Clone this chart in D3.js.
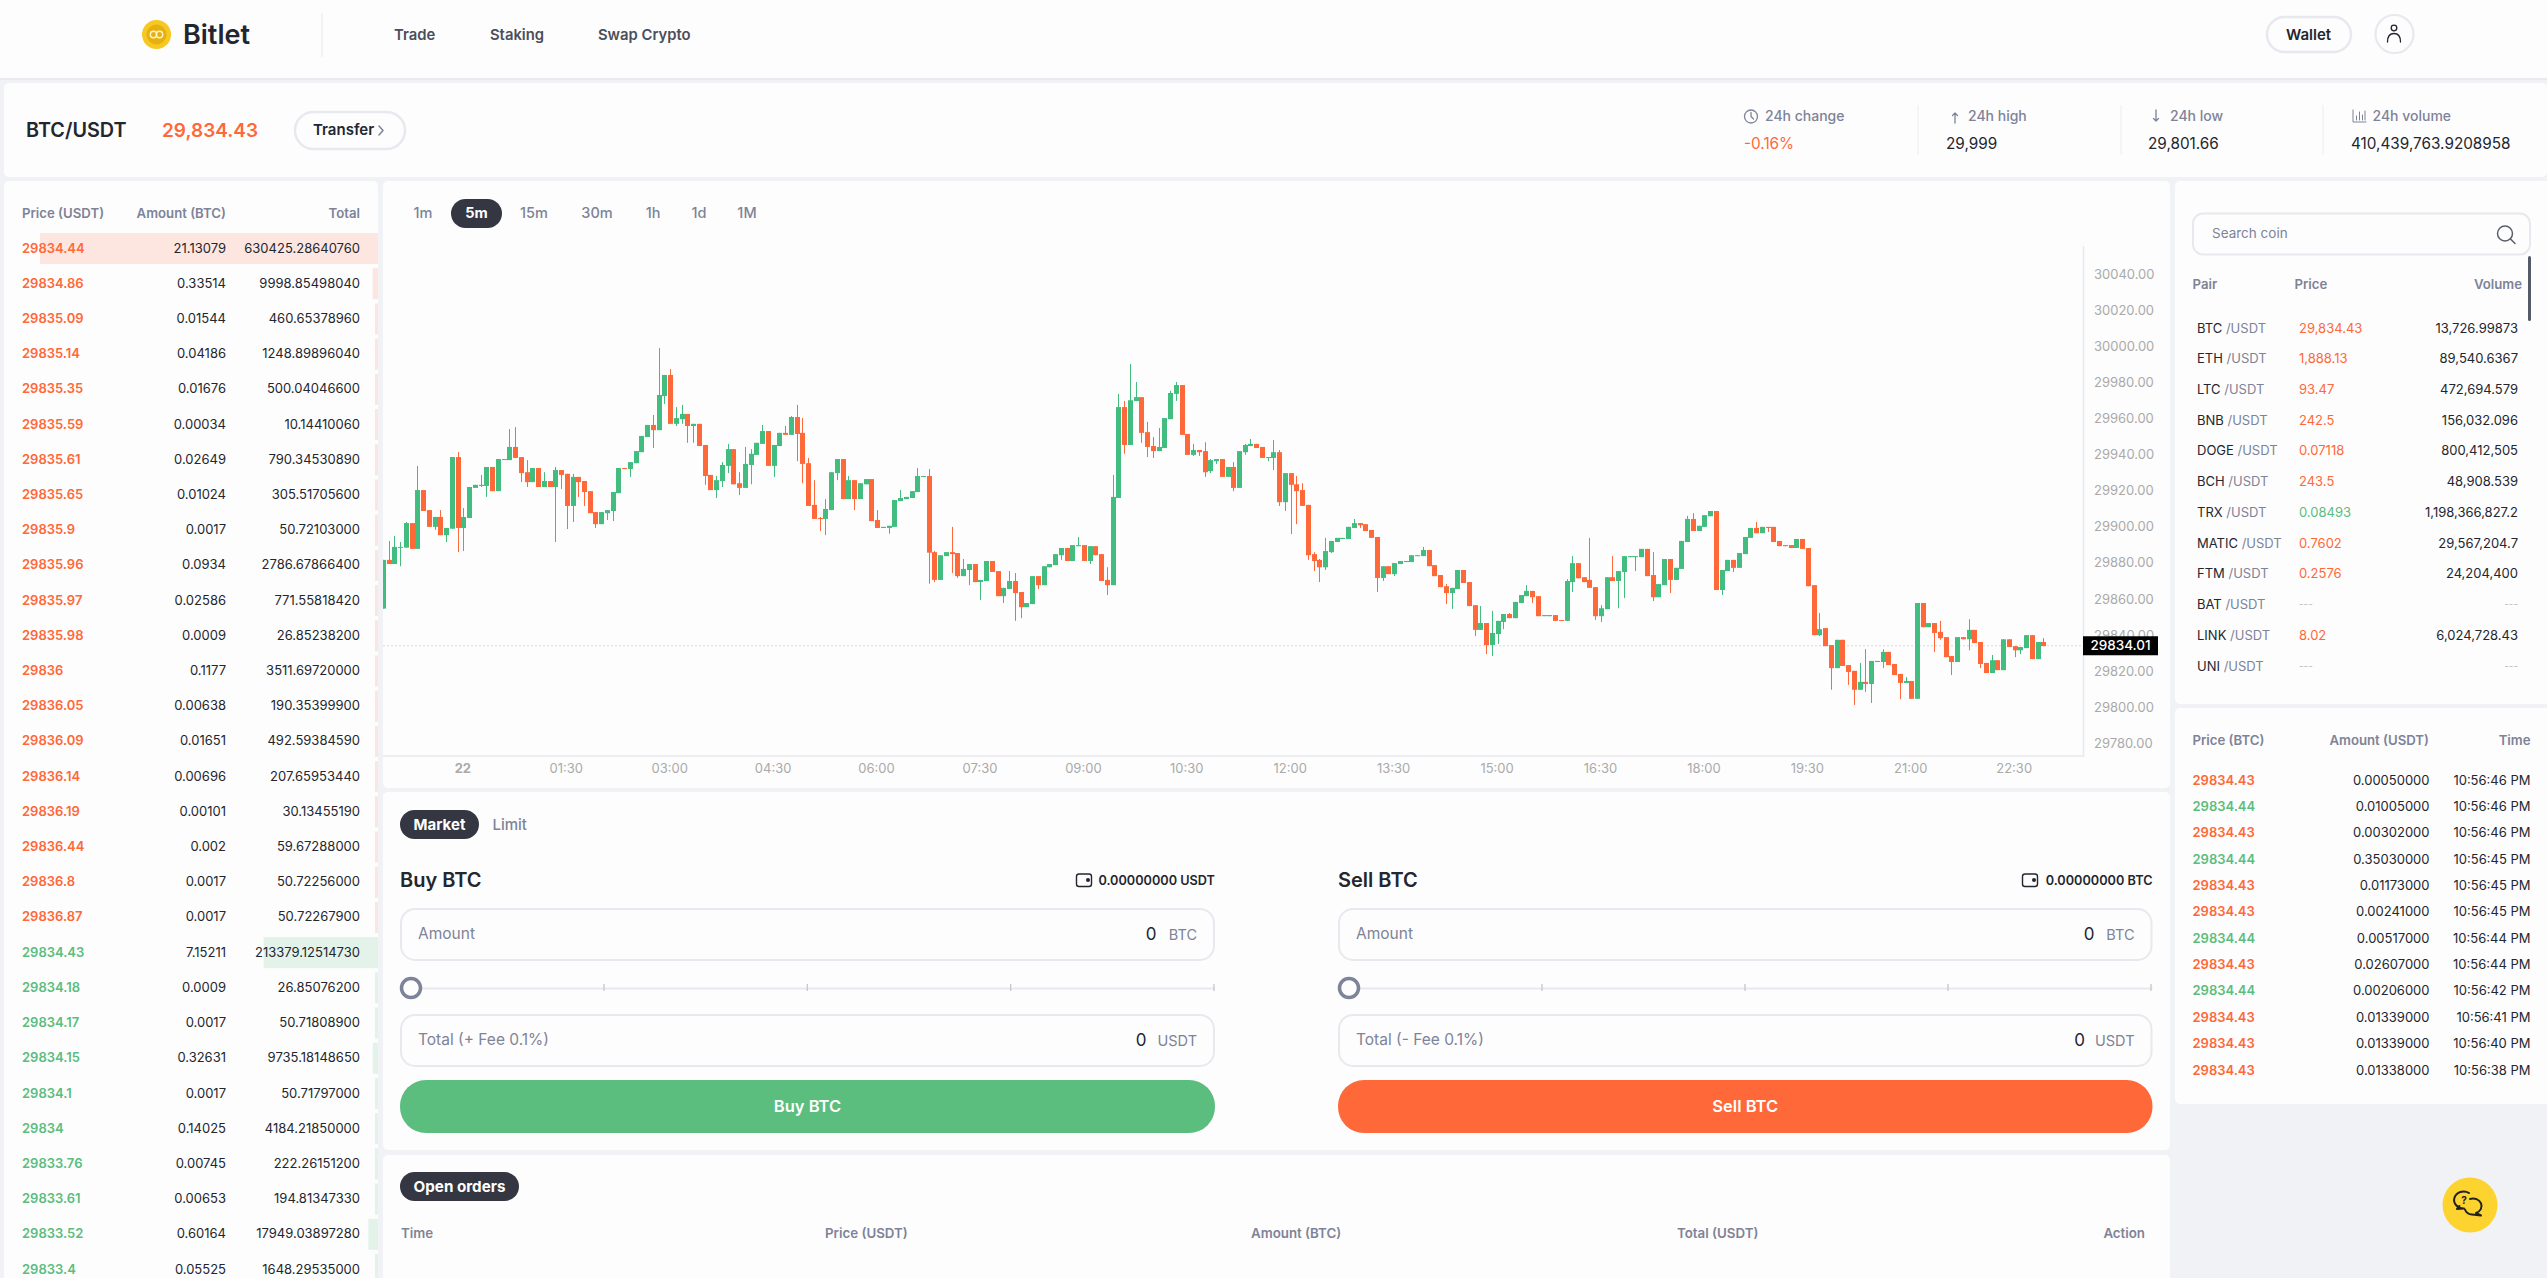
<!DOCTYPE html>
<html><head><meta charset="utf-8"><title>Bitlet BTC/USDT</title>
<script src="https://cdnjs.cloudflare.com/ajax/libs/d3/7.8.5/d3.min.js"></script>
<style>html,body{margin:0;padding:0;background:#f1f2f5;overflow:hidden}svg{display:block}text{font-family:Inter,"Open Sans",sans-serif}</style>
</head><body><div id="app"></div>
<script>
const opens=[
29854.6,29881.6,29879.3,29888.4,29888.4,29902.0,29887.7,29920.3,29909.2,29899.9,
29905.4,29895.3,29898.9,29938.6,29899.3,29904.8,29921.5,29922.6,29922.6,29933.1,
29919.7,29937.1,29936.9,29944.2,29938.6,29930.2,29924.7,29932.5,29922.0,29925.3,
29922.0,29931.4,29929.3,29911.5,29927.6,29925.3,29919.7,29908.1,29901.4,29907.5,
29908.7,29918.6,29932.5,29932.0,29935.2,29941.3,29949.7,29956.4,29953.5,29972.4,
29984.1,29957.0,29959.6,29962.5,29955.8,29957.0,29945.3,29928.7,29920.3,29925.3,
29933.7,29943.0,29924.1,29921.5,29934.2,29939.8,29945.9,29953.0,29933.7,29944.7,
29952.0,29950.9,29960.8,29952.0,29935.2,29912.1,29904.8,29904.3,29909.2,29929.7,
29937.5,29915.3,29925.8,29915.3,29923.5,29926.4,29903.7,29899.3,29899.3,29899.9,
29914.2,29915.3,29915.9,29919.2,29927.6,29928.1,29885.9,29870.5,29883.7,29885.9,
29885.4,29872.6,29876.0,29879.3,29869.3,29869.9,29881.0,29875.4,29861.5,29865.5,
29869.9,29863.8,29855.4,29857.1,29872.6,29867.6,29877.5,29878.7,29884.2,29888.2,
29881.0,29889.2,29889.8,29881.0,29889.2,29884.8,29870.5,29867.6,29915.9,29966.3,
29945.3,29969.6,29971.8,29952.4,29944.7,29941.9,29943.6,29959.6,29973.6,29978.5,
29951.4,29939.8,29942.5,29941.9,29930.8,29936.3,29937.5,29927.6,29933.1,29921.5,
29941.3,29944.7,29945.9,29944.2,29938.1,29938.1,29941.3,29913.6,29929.7,29923.5,
29920.3,29912.1,29884.8,29881.6,29877.5,29885.9,29891.5,29893.2,29893.2,29899.3,
29902.0,29901.4,29898.2,29894.3,29871.6,29878.1,29873.7,29879.3,29880.4,29880.4,
29883.7,29883.7,29887.1,29878.7,29873.2,29867.0,29863.2,29865.5,29876.0,29869.3,
29856.5,29842.8,29846.6,29834.4,29840.5,29847.2,29851.6,29849.3,29857.7,29861.5,
29864.4,29861.5,29850.4,29850.4,29851.0,29848.3,29847.8,29869.3,29879.8,29872.0,
29870.5,29866.5,29850.4,29854.3,29872.0,29869.9,29874.9,29883.1,29883.1,29883.1,
29887.7,29873.2,29860.9,29867.6,29882.1,29870.5,29876.6,29891.5,29904.3,29897.6,
29899.9,29905.8,29908.7,29864.9,29875.4,29881.6,29877.2,29884.8,29893.8,29899.3,
29896.4,29899.9,29899.9,29892.1,29889.8,29889.8,29888.2,29893.2,29888.2,29867.6,
29839.9,29843.8,29834.4,29821.6,29837.3,29823.3,29820.1,29809.6,29814.0,29812.8,
29825.0,29825.0,29830.6,29823.9,29818.4,29813.4,29814.5,29804.6,29857.7,29844.3,
29846.6,29841.7,29838.8,29828.3,29825.0,29838.8,29837.6,29842.8,29836.1,29824.5,
29818.9,29826.0,29820.5,29837.6,29833.8,29831.5,29832.7,29839.9,29826.6,29836.1];
const closes=[
29881.6,29879.3,29888.8,29888.8,29902.0,29887.7,29920.3,29908.7,29899.9,29905.4,
29895.3,29899.3,29938.6,29899.3,29905.4,29922.0,29923.2,29923.2,29933.1,29919.7,
29937.5,29937.5,29944.2,29938.1,29929.7,29924.7,29932.5,29922.0,29925.3,29922.0,
29931.4,29928.7,29911.5,29927.6,29924.7,29919.2,29907.5,29901.4,29908.1,29909.2,
29919.2,29932.5,29932.0,29935.8,29941.9,29950.3,29956.4,29953.5,29973.0,29984.1,
29957.0,29960.2,29962.5,29955.8,29957.0,29944.7,29928.1,29920.3,29925.8,29934.2,
29943.0,29923.5,29921.5,29934.8,29940.4,29946.5,29953.0,29933.7,29945.3,29952.0,
29950.9,29960.8,29951.4,29934.8,29911.5,29904.3,29904.3,29909.8,29930.2,29937.5,
29915.3,29925.8,29915.3,29924.1,29926.4,29903.1,29899.3,29899.9,29900.5,29914.8,
29915.9,29916.5,29919.7,29928.1,29928.1,29885.6,29870.5,29884.2,29885.9,29884.8,
29872.6,29876.6,29879.3,29869.3,29870.5,29881.0,29874.9,29861.5,29866.1,29869.9,
29863.2,29855.4,29857.7,29872.6,29867.6,29878.1,29879.3,29884.8,29888.2,29881.0,
29889.8,29889.8,29881.0,29889.2,29884.2,29869.9,29867.6,29916.5,29966.3,29945.3,
29970.1,29971.8,29952.0,29944.2,29941.9,29944.2,29960.2,29974.1,29978.5,29950.9,
29939.8,29942.5,29941.3,29930.2,29936.9,29937.5,29927.6,29933.1,29921.5,29941.9,
29945.3,29945.9,29943.6,29938.1,29938.6,29941.3,29913.6,29929.7,29923.2,29919.7,
29911.5,29884.2,29881.0,29877.5,29886.5,29892.1,29893.8,29893.8,29899.9,29902.0,
29900.8,29897.6,29893.8,29871.6,29878.1,29873.7,29879.8,29881.0,29881.0,29884.2,
29884.2,29887.1,29878.1,29872.6,29866.5,29863.2,29866.1,29876.0,29868.8,29856.0,
29842.8,29846.6,29834.4,29841.1,29847.8,29851.6,29849.3,29858.3,29862.1,29864.4,
29860.9,29850.4,29851.0,29851.0,29847.8,29847.8,29869.9,29879.8,29871.4,29869.3,
29866.1,29850.4,29854.8,29872.0,29869.9,29875.4,29883.7,29883.7,29883.7,29887.7,
29872.6,29860.9,29868.2,29882.1,29870.5,29877.2,29892.1,29904.3,29897.6,29900.5,
29906.4,29908.7,29864.9,29876.0,29881.6,29877.2,29885.4,29894.3,29899.3,29896.4,
29899.9,29899.3,29891.5,29889.2,29889.2,29888.2,29893.2,29887.7,29867.0,29839.9,
29843.2,29833.8,29821.6,29837.3,29822.8,29819.5,29809.6,29814.0,29812.8,29825.6,
29825.6,29830.6,29823.3,29817.8,29813.4,29814.5,29804.6,29857.7,29844.3,29846.6,
29841.1,29838.2,29827.7,29825.0,29838.8,29837.6,29842.8,29835.5,29823.9,29818.9,
29826.0,29820.5,29837.6,29833.3,29831.5,29833.3,29839.9,29826.6,29836.1,29833.8];
const highs=[
29881.6,29892.1,29894.9,29891.5,29902.6,29902.0,29933.7,29920.3,29909.2,29905.4,
29909.2,29899.3,29938.6,29941.3,29910.4,29922.0,29923.2,29928.7,29933.1,29933.1,
29937.5,29937.5,29954.1,29955.2,29938.6,29936.9,29932.5,29932.5,29930.2,29925.3,
29933.1,29931.4,29929.3,29929.3,29927.6,29925.3,29919.7,29908.1,29908.1,29909.2,
29919.2,29932.5,29932.5,29935.8,29941.9,29950.3,29956.4,29961.9,29999.0,29984.1,
29987.3,29966.3,29967.5,29962.5,29957.0,29957.0,29945.3,29928.7,29928.1,29935.8,
29945.9,29943.0,29930.2,29944.2,29943.0,29946.5,29956.4,29953.0,29945.3,29952.0,
29955.8,29961.3,29967.5,29960.2,29938.1,29925.8,29905.4,29915.3,29930.2,29937.5,
29937.5,29928.1,29925.8,29924.1,29926.4,29926.4,29909.2,29899.9,29900.5,29914.8,
29920.3,29916.5,29919.7,29932.5,29928.1,29932.0,29886.5,29884.2,29885.9,29899.9,
29885.4,29882.1,29879.3,29879.3,29870.5,29881.0,29881.0,29875.4,29866.1,29875.4,
29874.3,29863.8,29857.7,29872.6,29872.6,29878.1,29879.3,29884.8,29888.2,29888.2,
29889.8,29894.3,29889.8,29889.2,29889.2,29884.8,29877.5,29928.7,29973.6,29969.7,
29990.2,29980.2,29971.8,29958.1,29949.7,29954.7,29960.2,29975.3,29980.2,29978.5,
29951.4,29945.9,29942.5,29946.8,29937.5,29937.5,29937.5,29933.1,29935.8,29941.9,
29945.9,29948.6,29945.9,29944.2,29938.6,29948.0,29942.5,29929.7,29929.7,29928.1,
29924.1,29912.1,29885.9,29882.1,29893.8,29892.1,29893.8,29893.8,29899.9,29904.3,
29902.0,29901.4,29898.2,29894.3,29878.1,29878.1,29879.8,29881.0,29881.0,29884.2,
29884.2,29888.8,29887.1,29878.7,29873.2,29868.2,29866.1,29876.0,29876.0,29869.3,
29856.5,29856.0,29846.6,29853.3,29847.8,29851.6,29852.2,29858.3,29862.1,29867.6,
29864.4,29861.5,29851.0,29851.0,29851.0,29848.3,29870.9,29883.7,29879.8,29872.0,
29893.8,29866.5,29856.5,29872.0,29883.7,29875.4,29883.7,29883.7,29883.7,29887.7,
29887.7,29885.9,29868.2,29882.1,29882.1,29877.2,29892.1,29906.0,29907.5,29900.5,
29906.4,29908.7,29908.7,29876.0,29881.6,29881.6,29885.4,29894.3,29899.3,29902.6,
29899.9,29899.9,29899.9,29892.1,29889.8,29889.8,29893.2,29893.2,29888.2,29867.6,
29852.2,29843.8,29834.4,29837.3,29837.3,29823.3,29820.1,29824.5,29832.1,29825.6,
29825.6,29832.1,29830.6,29823.9,29818.4,29816.6,29814.5,29857.7,29857.7,29846.6,
29846.6,29847.8,29838.8,29828.3,29838.8,29838.8,29848.7,29842.8,29836.1,29824.5,
29828.9,29826.0,29837.6,29837.6,29833.8,29833.3,29839.9,29839.9,29836.1,29838.2];
const lows=[
29854.6,29879.3,29879.3,29878.1,29888.4,29887.7,29887.7,29908.7,29899.9,29898.2,
29895.3,29891.5,29898.9,29885.9,29886.5,29904.8,29921.5,29922.0,29916.5,29919.7,
29919.7,29937.1,29936.9,29938.1,29924.7,29922.0,29924.7,29922.0,29922.0,29922.0,
29891.5,29920.9,29898.7,29902.6,29916.5,29911.5,29907.5,29899.3,29901.4,29903.7,
29903.1,29918.6,29932.0,29927.6,29935.2,29941.3,29949.7,29943.6,29953.5,29968.0,
29957.0,29955.8,29957.0,29946.5,29946.5,29944.7,29923.2,29920.3,29915.9,29922.0,
29929.7,29923.5,29917.6,29921.5,29923.5,29939.8,29945.9,29933.7,29927.6,29944.7,
29950.9,29950.9,29936.3,29924.1,29911.5,29904.3,29897.6,29895.3,29909.2,29925.8,
29915.3,29915.3,29909.2,29915.3,29923.5,29903.1,29899.3,29899.3,29896.1,29899.9,
29914.2,29915.3,29915.9,29919.2,29927.6,29868.4,29869.3,29870.5,29883.7,29874.3,
29871.6,29872.6,29867.6,29869.3,29859.4,29869.9,29874.9,29861.5,29857.7,29865.5,
29847.8,29849.3,29855.4,29857.1,29865.5,29867.6,29877.5,29878.7,29881.6,29881.0,
29881.0,29889.2,29881.0,29879.3,29884.2,29869.9,29862.1,29867.6,29915.9,29940.4,
29945.3,29969.6,29946.5,29938.6,29938.1,29941.9,29943.6,29959.6,29969.7,29950.9,
29939.8,29939.2,29939.2,29927.6,29929.7,29934.8,29927.6,29927.6,29919.7,29921.5,
29939.8,29944.7,29943.6,29938.1,29936.3,29931.4,29911.5,29908.7,29895.9,29901.4,
29911.5,29881.6,29875.4,29869.3,29876.0,29885.4,29891.5,29893.2,29893.2,29899.3,
29899.3,29897.6,29893.8,29863.8,29869.9,29873.7,29872.6,29879.3,29880.4,29880.4,
29883.7,29883.7,29878.1,29872.6,29866.5,29857.1,29854.4,29865.5,29868.8,29856.0,
29839.4,29842.8,29829.4,29828.3,29835.0,29843.2,29849.3,29849.3,29857.7,29861.5,
29857.7,29850.4,29850.4,29850.4,29847.8,29847.8,29847.8,29863.8,29871.4,29869.3,
29866.1,29848.3,29847.2,29854.3,29869.9,29854.8,29860.4,29883.1,29875.4,29883.1,
29872.6,29858.8,29860.9,29867.6,29863.2,29870.5,29876.6,29891.5,29897.6,29897.6,
29899.9,29905.8,29864.9,29862.1,29875.4,29874.9,29877.2,29884.8,29893.8,29896.4,
29896.4,29897.0,29891.5,29889.2,29889.2,29888.2,29888.2,29887.7,29867.0,29839.9,
29839.4,29833.8,29809.6,29821.6,29822.8,29812.3,29801.2,29809.6,29808.4,29802.3,
29825.0,29821.6,29823.3,29817.8,29804.4,29813.4,29804.6,29804.6,29844.3,29844.3,
29830.6,29837.3,29827.7,29817.8,29825.0,29837.6,29831.5,29835.5,29821.6,29818.9,
29818.9,29820.5,29820.5,29833.3,29827.7,29829.4,29832.7,29826.6,29826.6,29833.8];
const lastPrice=29834.01;
const priceTicks=[29780,29800,29820,29840,29860,29880,29900,29920,29940,29960,29980,30000,30020,30040];
const timeTickLabels=["22","01:30","03:00","04:30","06:00","07:30","09:00","10:30","12:00","13:30","15:00","16:30","18:00","19:30","21:00","22:30"];
const intervals=["1m","5m","15m","30m","1h","1d","1M"];

const askPrices=["29834.44","29834.86","29835.09","29835.14","29835.35","29835.59","29835.61","29835.65","29835.9","29835.96","29835.97","29835.98","29836","29836.05","29836.09","29836.14","29836.19","29836.44","29836.8","29836.87"];
const askAmounts=["21.13079","0.33514","0.01544","0.04186","0.01676","0.00034","0.02649","0.01024","0.0017","0.0934","0.02586","0.0009","0.1177","0.00638","0.01651","0.00696","0.00101","0.002","0.0017","0.0017"];
const askTotals=["630425.28640760","9998.85498040","460.65378960","1248.89896040","500.04046600","10.14410060","790.34530890","305.51705600","50.72103000","2786.67866400","771.55818420","26.85238200","3511.69720000","190.35399900","492.59384590","207.65953440","30.13455190","59.67288000","50.72256000","50.72267900"];
const bidPrices=["29834.43","29834.18","29834.17","29834.15","29834.1","29834","29833.76","29833.61","29833.52","29833.4"];
const bidAmounts=["7.15211","0.0009","0.0017","0.32631","0.0017","0.14025","0.00745","0.00653","0.60164","0.05525"];
const bidTotals=["213379.12514730","26.85076200","50.71808900","9735.18148650","50.71797000","4184.21850000","222.26151200","194.81347330","17949.03897280","1648.29535000"];

const pairNames=["BTC","ETH","LTC","BNB","DOGE","BCH","TRX","MATIC","FTM","BAT","LINK","UNI"];
const pairPrices=["29,834.43","1,888.13","93.47","242.5","0.07118","243.5","0.08493","0.7602","0.2576","---","8.02","---"];
const pairVolumes=["13,726.99873","89,540.6367","472,694.579","156,032.096","800,412,505","48,908.539","1,198,366,827.2","29,567,204.7","24,204,400","---","6,024,728.43","---"];
const pairUp=[0,0,0,0,0,0,1,0,0,0,0,0];

const tradePrices=["29834.43","29834.44","29834.43","29834.44","29834.43","29834.43","29834.44","29834.43","29834.44","29834.43","29834.43","29834.43"];
const tradeAmounts=["0.00050000","0.01005000","0.00302000","0.35030000","0.01173000","0.00241000","0.00517000","0.02607000","0.00206000","0.01339000","0.01339000","0.01338000"];
const tradeTimes=["10:56:46 PM","10:56:46 PM","10:56:46 PM","10:56:45 PM","10:56:45 PM","10:56:45 PM","10:56:44 PM","10:56:44 PM","10:56:42 PM","10:56:41 PM","10:56:40 PM","10:56:38 PM"];

const W=2547,H=1278;
const RED="#ff6838",GREEN="#5bbd7e",CANDLE_UP="#42bd7f",DARK="#23262f",GRAY="#7d8398",LINE="#e8e9ee",PANEL="#fdfdfd",PILL="#343741";
const svg=d3.select("#app").append("svg").attr("width",W).attr("height",H).attr("viewBox",`0 0 ${W} ${H}`);
svg.append("rect").attr("width",W).attr("height",H).attr("fill","#f1f2f5");

function T(x,y,s,o={}){
  return svg.append("text").attr("x",x).attr("y",y).attr("dy",".35em")
    .attr("font-size",o.size||13).attr("font-weight",o.weight||400)
    .attr("fill",o.fill||DARK).attr("text-anchor",o.anchor||"start").text(s);
}
function panel(x,y,w,h){svg.append("rect").attr("x",x).attr("y",y).attr("width",w).attr("height",h).attr("rx",5).attr("fill",PANEL);}
function pill(x,y,w,h,o={}){svg.append("rect").attr("x",x).attr("y",y).attr("width",w).attr("height",h).attr("rx",o.r||h/2)
  .attr("fill",o.fill||PANEL).attr("stroke",o.stroke||"none").attr("stroke-width",o.sw||0);}
function ln(x1,y1,x2,y2,c,w){svg.append("line").attr("x1",x1).attr("y1",y1).attr("x2",x2).attr("y2",y2).attr("stroke",c||LINE).attr("stroke-width",w||1);}
function pth(d,o={}){svg.append("path").attr("d",d).attr("fill",o.fill||"none").attr("stroke",o.stroke||"none").attr("stroke-width",o.sw||1.3).attr("stroke-linecap","round").attr("stroke-linejoin","round");}

/* ---------- header ---------- */
svg.append("rect").attr("width",W).attr("height",78).attr("fill",PANEL);
svg.append("rect").attr("y",78).attr("width",W).attr("height",2).attr("fill","#e9eaef");
svg.append("circle").attr("cx",156.5).attr("cy",34.5).attr("r",14.5).attr("fill","#f7c81f");
svg.append("circle").attr("cx",156.5).attr("cy",34.5).attr("r",10).attr("fill","#e7b012");
svg.append("circle").attr("cx",153.5).attr("cy",34.5).attr("r",3.2).attr("fill","none").attr("stroke","#fff4c8").attr("stroke-width",1.4);
svg.append("circle").attr("cx",159.5).attr("cy",34.5).attr("r",3.2).attr("fill","none").attr("stroke","#fff4c8").attr("stroke-width",1.4);
T(183,35,"Bitlet",{size:27,weight:600});
ln(322,13,322,57,"#e8e9ed",1);
T(394,35,"Trade",{size:14.8,weight:600,fill:"#4a4e5a"});
T(490,35,"Staking",{size:14.8,weight:600,fill:"#4a4e5a"});
T(598,35,"Swap Crypto",{size:14.8,weight:600,fill:"#4a4e5a"});
pill(2267,17,84,35,{stroke:LINE,sw:2.5});
T(2308.5,35,"Wallet",{size:15,weight:600,anchor:"middle"});
svg.append("circle").attr("cx",2394.5).attr("cy",34).attr("r",19).attr("fill",PANEL).attr("stroke",LINE).attr("stroke-width",2.2);
svg.append("circle").attr("cx",2394).attr("cy",28).attr("r",2.8).attr("fill","none").attr("stroke","#23262f").attr("stroke-width",1.3);
pth("M2387.5 42 Q2387.5 33.5 2394 33.5 Q2400.5 33.5 2400.5 42",{stroke:"#23262f"});

/* ---------- price strip ---------- */
svg.append("rect").attr("x",4).attr("y",83).attr("width",W-4).attr("height",94).attr("rx",5).attr("fill",PANEL);
T(26,130,"BTC/USDT",{size:19.8,weight:600});
T(162,130,"29,834.43",{size:19,weight:600,fill:RED});
pill(295,112,110,37,{stroke:LINE,sw:2.5});
T(313,130,"Transfer",{size:15,weight:600});
pth("M379 126 L383 130.5 L379 135",{stroke:GRAY,sw:1.5});
const statHead=[["24h change",1765],["24h high",1968],["24h low",2170],["24h volume",2372.5]];
statHead.forEach(d=>T(d[1],116,d[0],{size:14,weight:500,fill:GRAY}));
const statVals=[["-0.16%",1744,RED],["29,999",1946,DARK],["29,801.66",2148,DARK],["410,439,763.9208958",2351,DARK]];
statVals.forEach(d=>T(d[1],144,d[0],{size:15.3,fill:d[2]}));
[1918,2121,2323].forEach(x=>ln(x,105,x,155,"#eceded",1));
svg.append("circle").attr("cx",1751).attr("cy",116.5).attr("r",6.5).attr("fill","none").attr("stroke",GRAY).attr("stroke-width",1.3);
pth("M1751 112.5 L1751 116.5 L1753.5 119",{stroke:GRAY});
pth("M1955 123 L1955 113 M1952.5 115.5 L1955 113 L1957.5 115.5",{stroke:GRAY});
pth("M2156 110 L2156 121 M2153.5 118.5 L2156 121 L2158.5 118.5",{stroke:GRAY});
pth("M2353 110 L2353 122 L2366 122 M2356.5 120 L2356.5 116 M2359.5 120 L2359.5 112 M2362.5 120 L2362.5 115 M2365 120 L2365 111",{stroke:GRAY,sw:1});

/* ---------- panels ---------- */
panel(4,181,374,H-181+10);
panel(383,181,1787,607);
panel(383,792,1787,358);
panel(383,1155,1787,H-1155+10);
panel(2175,181,W-2175+10,523);
panel(2175,708,W-2175+10,396);

/* ---------- order book ---------- */
const book=askPrices.map((p,i)=>({p,a:askAmounts[i],t:askTotals[i],side:"ask"}))
  .concat(bidPrices.map((p,i)=>({p,a:bidAmounts[i],t:bidTotals[i],side:"bid"})));
const rowY=d3.scaleLinear().domain([0,29]).range([248,1269]);
const depth=d3.scaleLinear().domain([0,630425.2864]).range([0,338]);
T(22,213,"Price (USDT)",{size:13.2,weight:600,fill:GRAY});
T(226,213,"Amount (BTC)",{size:13.2,weight:600,fill:GRAY,anchor:"end"});
T(360,213,"Total",{size:13.2,weight:600,fill:GRAY,anchor:"end"});
const bookG=svg.append("g");
bookG.selectAll("rect").data(book).join("rect")
  .attr("x",d=>378-Math.max(3,depth(+d.t))).attr("y",(d,i)=>rowY(i)-15)
  .attr("width",d=>Math.max(3,depth(+d.t))).attr("height",31)
  .attr("fill",d=>d.side==="ask"?"#fde6e0":"#e3f3ea");
book.forEach((d,i)=>{
  T(22,rowY(i),d.p,{size:13,weight:600,fill:d.side==="ask"?RED:GREEN});
  T(226,rowY(i),d.a,{size:13,anchor:"end"});
  T(360,rowY(i),d.t,{size:13,anchor:"end"});
});

/* ---------- interval buttons ---------- */
pill(451,199,51,29,{fill:PILL});
const intervalX=[423,476.5,534,597,653,699,747];
intervals.forEach((s,i)=>T(intervalX[i],213,s,{size:14.5,weight:i===1?700:500,fill:i===1?"#fff":GRAY,anchor:"middle"}));

/* ---------- candlestick chart ---------- */
const t0=Date.UTC(2023,6,21,22,50);
const FIVE=5*60*1000;
const candles=opens.map((o,i)=>({t:new Date(t0+i*FIVE),o,h:highs[i],l:lows[i],c:closes[i]}));
const x=d3.scaleUtc().domain([candles[0].t,candles[candles.length-1].t]).range([382.9,2043.4]);
const y=d3.scaleLinear().domain([29780,30040]).range([743.2,274.1]);

svg.append("clipPath").attr("id","plot").append("rect").attr("x",383).attr("y",246).attr("width",1700.5).attr("height",510);

const tickDates=timeTickLabels.map((s,i)=>new Date(Date.UTC(2023,6,22,0)+i*90*60*1000));
const xAxis=d3.axisBottom(x).tickValues(tickDates).tickSize(0).tickPadding(8)
  .tickFormat((d,i)=>timeTickLabels[i]);
const gx=svg.append("g").attr("transform","translate(-1,756)").call(xAxis);
gx.select(".domain").attr("stroke",LINE).attr("stroke-width",1.5).attr("d","M384,0H2084.5");
gx.selectAll("text").attr("font-size",13).attr("fill","#aaaaaa").attr("font-family","Inter")
  .attr("font-weight",(d,i)=>i===0?700:400);

const yAxis=d3.axisRight(y).tickValues(priceTicks).tickSize(0).tickPadding(10.5).tickFormat(d3.format(".2f"));
const gy=svg.append("g").attr("transform","translate(2083.5,0)").call(yAxis);
gy.select(".domain").attr("stroke",LINE).attr("stroke-width",1.5).attr("d","M0,246V757");
gy.selectAll("text").attr("font-size",13).attr("fill","#aaaaaa").attr("font-family","Inter");

const plot=svg.append("g").attr("clip-path","url(#plot)");
plot.append("line").attr("x1",383).attr("x2",2083).attr("y1",y(lastPrice)).attr("y2",y(lastPrice))
  .attr("stroke","#d8d8d8").attr("stroke-width",1).attr("stroke-dasharray","2,2");
const up=d=>d.c>=d.o;
plot.selectAll("line.wick").data(candles).join("line").attr("class","wick")
  .attr("x1",d=>Math.round(x(d.t))+.5).attr("x2",d=>Math.round(x(d.t))+.5)
  .attr("y1",d=>y(d.h)).attr("y2",d=>y(d.l))
  .attr("stroke",d=>up(d)?CANDLE_UP:RED).attr("stroke-width",1);
plot.selectAll("rect.body").data(candles).join("rect").attr("class","body")
  .attr("x",d=>Math.round(x(d.t))-2).attr("width",5)
  .attr("y",d=>y(Math.max(d.o,d.c)))
  .attr("height",d=>Math.max(1,Math.abs(y(d.o)-y(d.c))))
  .attr("fill",d=>up(d)?CANDLE_UP:RED);

svg.append("rect").attr("x",2083).attr("y",y(lastPrice)-9.5).attr("width",75).attr("height",19).attr("fill","#000");
T(2120.5,y(lastPrice),d3.format(".2f")(lastPrice),{size:13.5,fill:"#fff",anchor:"middle",weight:500});

/* ---------- order forms ---------- */
pill(400,810,79,29,{fill:PILL});
T(439.5,824.5,"Market",{size:15,weight:700,fill:"#fff",anchor:"middle"});
T(492.5,824.5,"Limit",{size:15,weight:500,fill:GRAY});
function form(o){
  T(o.x0,880,o.title,{size:20,weight:600});
  const iconX=o.iconX;
  svg.append("rect").attr("x",iconX-7.5).attr("y",874).attr("width",15).attr("height",12.5).attr("rx",2.5).attr("fill","none").attr("stroke",DARK).attr("stroke-width",1.4);
  svg.append("circle").attr("cx",iconX+4).attr("cy",880).attr("r",2).attr("fill",DARK);
  T(o.x1,880.5,o.bal,{size:12.7,weight:600,anchor:"end"});
  [[908,"Amount",o.amountX,"BTC"],[1014,o.totalLabel,o.totalX,"USDT"]].forEach(r=>{
    pill(o.x0+1,r[0]+1,o.x1-o.x0-2,51,{r:14,stroke:LINE,sw:2});
    T(o.x0+18,r[0]+26,r[1],{size:15.5,fill:GRAY});
    T(r[2],r[0]+26,"0",{size:17,anchor:"middle"});
    T(o.x1-18,r[0]+26.5,r[3],{size:14.5,fill:GRAY,anchor:"end"});
  });
  ln(o.x0,988.5,o.x1,988.5,LINE,2);
  const sc=d3.scalePoint().domain([1,2,3,4]).range(o.ticks);
  [1,2,3,4].forEach(k=>ln(sc(k),984,sc(k),991,"#c5c7cd",1.3));
  svg.append("circle").attr("cx",o.handle).attr("cy",988).attr("r",9.5).attr("fill",PANEL).attr("stroke",GRAY).attr("stroke-width",3.5);
  pill(o.x0,1080,o.x1-o.x0,53,{fill:o.color,r:26});
  T((o.x0+o.x1)/2,1106,o.title,{size:16.5,weight:600,fill:"#fff",anchor:"middle"});
}
form({x0:400,x1:1215,title:"Buy BTC",bal:"0.00000000 USDT",iconX:1084,amountX:1151,totalX:1141,totalLabel:"Total (+ Fee 0.1%)",ticks:[604,1214],handle:411,color:GREEN});
form({x0:1338,x1:2152.5,title:"Sell BTC",bal:"0.00000000 BTC",iconX:2030,amountX:2089,totalX:2079.5,totalLabel:"Total (- Fee 0.1%)",ticks:[1542,2151],handle:1349,color:RED});

/* ---------- open orders ---------- */
pill(400,1172,119,29,{fill:PILL});
T(459.5,1186.5,"Open orders",{size:15.2,weight:700,fill:"#fff",anchor:"middle"});
[["Time",401],["Price (USDT)",825],["Amount (BTC)",1251],["Total (USDT)",1677]].forEach(d=>T(d[1],1233,d[0],{size:13.3,weight:600,fill:GRAY}));
T(2145,1233,"Action",{size:13.3,weight:600,fill:GRAY,anchor:"end"});

/* ---------- markets ---------- */
pill(2193,213.5,337,41,{r:10,stroke:LINE,sw:2});
T(2212,233,"Search coin",{size:13.5,fill:GRAY});
svg.append("circle").attr("cx",2505).attr("cy",233.5).attr("r",7.5).attr("fill","none").attr("stroke","#5a5f6c").attr("stroke-width",1.5);
pth("M2510.5 239 L2515 243.5",{stroke:"#5a5f6c",sw:1.5});
svg.append("rect").attr("x",2528).attr("y",256).attr("width",3).attr("height",65).attr("rx",1.5).attr("fill","#555a68");
T(2192.5,284,"Pair",{size:13.2,weight:600,fill:GRAY});
T(2294.5,284,"Price",{size:13.2,weight:600,fill:GRAY});
T(2522,284,"Volume",{size:13.2,weight:600,fill:GRAY,anchor:"end"});
const pairY=d3.scaleLinear().domain([0,11]).range([328,666]);
pairNames.forEach((n,i)=>{
  const t=T(2197,pairY(i),"",{size:13});
  t.append("tspan").text(n+" ");
  t.append("tspan").attr("fill",GRAY).text("/USDT");
  const blank=pairPrices[i]==="---";
  T(2299,pairY(i),pairPrices[i],{size:blank?10:13,fill:blank?"#bbbcc4":(pairUp[i]?GREEN:RED)});
  T(2518,pairY(i),pairVolumes[i],{size:blank?10:13,fill:blank?"#bbbcc4":DARK,anchor:"end"});
});

/* ---------- trades ---------- */
T(2192.5,740,"Price (BTC)",{size:13.2,weight:600,fill:GRAY});
T(2429,740,"Amount (USDT)",{size:13.2,weight:600,fill:GRAY,anchor:"end"});
T(2530.5,740,"Time",{size:13.2,weight:600,fill:GRAY,anchor:"end"});
const tradeY=d3.scaleLinear().domain([0,11]).range([780,1070]);
tradePrices.forEach((p,i)=>{
  T(2192.5,tradeY(i),p,{size:13,weight:600,fill:p==="29834.44"?GREEN:RED});
  T(2429.5,tradeY(i),tradeAmounts[i],{size:13,anchor:"end"});
  T(2530.5,tradeY(i),tradeTimes[i],{size:13,anchor:"end"});
});

/* ---------- chat button ---------- */
svg.append("circle").attr("cx",2470).attr("cy",1205).attr("r",27.5).attr("fill","#fdd330");
pth("M2469 1193 a9.5 8.5 0 1 0 -5 15.5 l-7 0.5 l2.5 -3",{stroke:"#222",sw:2});
pth("M2470 1199 a8 7 0 1 1 6 14 l5 2.5 l-9 -1 a8 7 0 0 1 -7 -5",{stroke:"#222",sw:2});
T(2464,1200,"?",{size:10,weight:700,fill:"#222",anchor:"middle"});
</script></body></html>
